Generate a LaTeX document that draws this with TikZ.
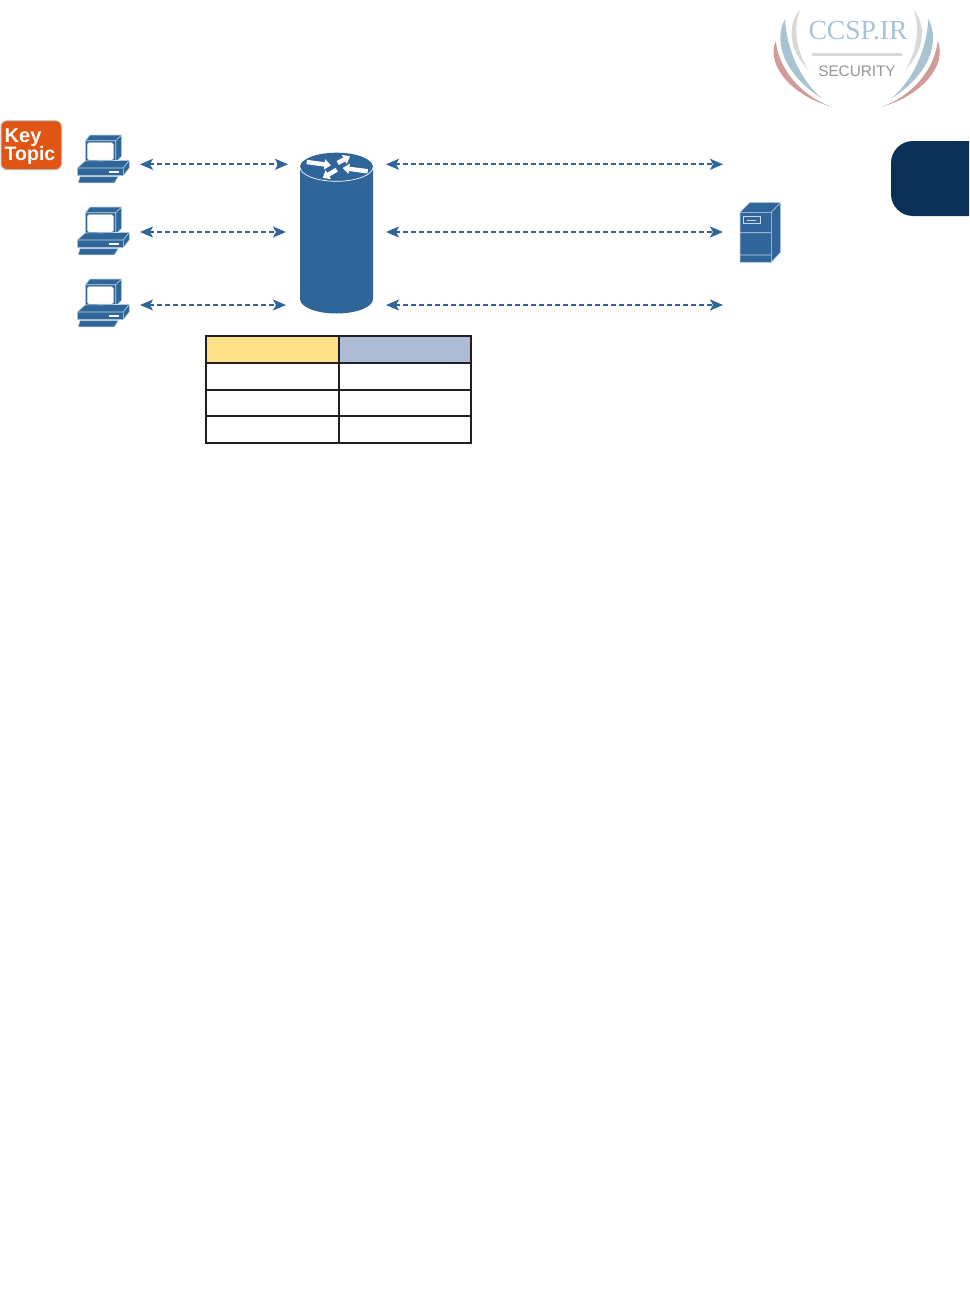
\documentclass[tikz,border=0pt]{standalone}
\usepackage{fontspec}
\setmainfont{Liberation Sans}
\newfontfamily\logoserif{Liberation Serif}
\usetikzlibrary{arrows.meta}
\definecolor{iconblue}{HTML}{2F6599}
\definecolor{iconline}{HTML}{C9D8E8}
\definecolor{keyorange}{HTML}{E05513}
\definecolor{keyrim}{HTML}{BDB2AA}
\definecolor{tabnavy}{HTML}{0B3058}
\definecolor{headyellow}{HTML}{FDE28A}
\definecolor{headblue}{HTML}{AEBBD4}
\definecolor{tableline}{HTML}{231F20}
\definecolor{logoblue}{HTML}{A8C4D3}
\definecolor{logored}{HTML}{D29A98}
\definecolor{logogray}{HTML}{D8D8D8}
\tikzset{
  link/.style={iconblue, line width=1.7pt, dash pattern=on 4.5pt off 3.5pt,
    {Stealth[length=13pt,width=11pt,inset=3pt]}-{Stealth[length=13pt,width=11pt,inset=3pt]}},
  face/.style={fill=iconblue, draw=iconline, line width=0.6pt},
  petal/.style={white, line width=4.4pt, -{Triangle[length=6.5pt,width=10pt]}},
  grid line/.style={tableline, line width=2pt},
  pcicon/.pic={
    % monitor
    \draw[face] (7.3,5.7) -- (12,0) -- (43.7,0) -- (43.7,21.3) -- (37.7,27) -- (7.3,27) -- cycle;
    \draw[iconline, line width=0.6pt] (7.3,5.7) -- (37.7,5.7) -- (43.7,0) (37.7,5.7) -- (37.7,27);
    \fill[white, rounded corners=1.5pt, draw=iconline] (9.3,7.7) rectangle (35.3,25);
    % base
    \draw[face] (-0.7,33) -- (7,26) -- (51.3,25.3) -- (51.3,33) -- (45.3,40.7) -- (-0.7,40.7) -- cycle;
    \draw[iconline, line width=0.6pt] (-0.7,33) -- (45.3,33) -- (51.3,25.3) (45.3,33) -- (45.3,40.7);
    \fill[white] (31,35.7) rectangle (41,37.7);
    % keyboard
    \draw[face, line width=0.4pt] (0.3,47.8) -- (2,41.5) -- (40.3,41.5) -- (36.3,47.8) -- cycle;
  },
}

\begin{document}
\begin{tikzpicture}[x=1pt, y=-1pt]
  \useasboundingbox (0,0) rectangle (969,1314);

  % logo
  \foreach \side in {1,-1} {
    \begin{scope}[shift={(856.7,0)}, xscale=\side]
      \fill[logogray] (-56.7,9.3) .. controls (-70,26) and (-68,50) .. (-48.4,70) .. controls (-60,52) and (-64,28) .. (-56.7,9.3);
      \fill[logoblue] (-71.7,19) .. controls (-84,42) and (-72,75) .. (-35,98.3) .. controls (-58,78) and (-70,48) .. (-71.7,19);
      \fill[logored] (-81,41) .. controls (-91,66) and (-64,96) .. (-25,106.7) .. controls (-54,97) and (-78,70) .. (-81,41);
    \end{scope}
  }
  \node[anchor=base, inner sep=0pt, text=logoblue, font=\logoserif\fontsize{27.6}{28}\selectfont] (logotext) at (858,40) {CCSP.IR};
  \fill[logogray] (811.7,53.5) rectangle (902.3,56.5);
  \node[anchor=base, inner sep=0pt, text=black!42, font=\fontsize{15.3}{15.3}\selectfont] (logosub) at (857,76.7) {SECURITY};

  % side tab
  \fill[tabnavy] (969,141) -- (913,141) arc[start angle=90, end angle=180, radius=22pt] -- (891,194) arc[start angle=180, end angle=270, radius=22pt] -- (969,216) -- cycle;

  % badge
  \draw[keyrim, fill=keyorange, line width=1pt, rounded corners=6pt] (1,120.8) rectangle (61.5,169.5);
  \node[anchor=base west, inner sep=0pt, text=white, font=\bfseries\fontsize{20}{20}\selectfont] (keyword) at (4.5,142.5) {Key};
  \node[anchor=base west, inner sep=0pt, text=white, font=\bfseries\fontsize{19.5}{20}\selectfont] (topicword) at (4.5,160.5) {Topic};

  % router
  \fill[iconblue] (300,167) -- (300,299) arc[start angle=180, end angle=360, x radius=36.5pt, y radius=14.5pt] -- (373,167) -- cycle;
  \fill[iconblue] (336.5,167) ellipse[x radius=36.5pt, y radius=14.3pt];
  \draw[white, line width=0.7pt] (300,167) arc[start angle=180, end angle=360, x radius=36.5pt, y radius=14.3pt];
  \draw[petal] (306.7,162) -- (331,165.3);
  \draw[petal] (337.7,163) -- (350,156.3);
  \draw[petal] (367.7,171.3) -- (342.7,168);
  \draw[petal] (336.7,169.7) -- (322.7,178);

  % server
  \draw[face] (740,212.3) -- (750,202.3) -- (780.7,202.3) -- (780.7,252.3) -- (771.3,262.3) -- (740,262.3) -- cycle;
  \draw[iconline, line width=0.6pt] (740,212.3) -- (771.3,212.3) -- (780.7,202.3) (771.3,212.3) -- (771.3,262.3) (740,232.7) -- (771.3,232.7) (740,255) -- (771.3,255);
  \draw[iconline, line width=0.6pt] (743.3,216.3) rectangle (760,223.7) (746.7,220) -- (756,220);

  % clients and links
  \foreach \row/\rowtop/\liney/\tipx in {1/135/164.3/288, 2/207/232/286, 3/279/305/286} {
    \pic (pc\row) at (78,\rowtop) {pcicon};
    \coordinate (pcport\row) at (140,\liney);
    \coordinate (routerin\row) at (\tipx,\liney);
    \coordinate (routerout\row) at (386,\liney);
    \coordinate (serverport\row) at (723,\liney);
    \draw[link] (pcport\row) -- (routerin\row);
    \draw[link] (routerout\row) -- (serverport\row);
  }

  % table
  \fill[headyellow] (206,336) rectangle (338.5,362.5);
  \fill[headblue] (338.5,336) rectangle (471,362.5);
  \draw[grid line] (206,336) rectangle (471,443);
  \foreach \yy in {362.5,389.5,416} {
    \draw[grid line] (206,\yy) -- (471,\yy);
  }
  \draw[grid line] (338.5,336) -- (338.5,443);
\end{tikzpicture}
\end{document}
